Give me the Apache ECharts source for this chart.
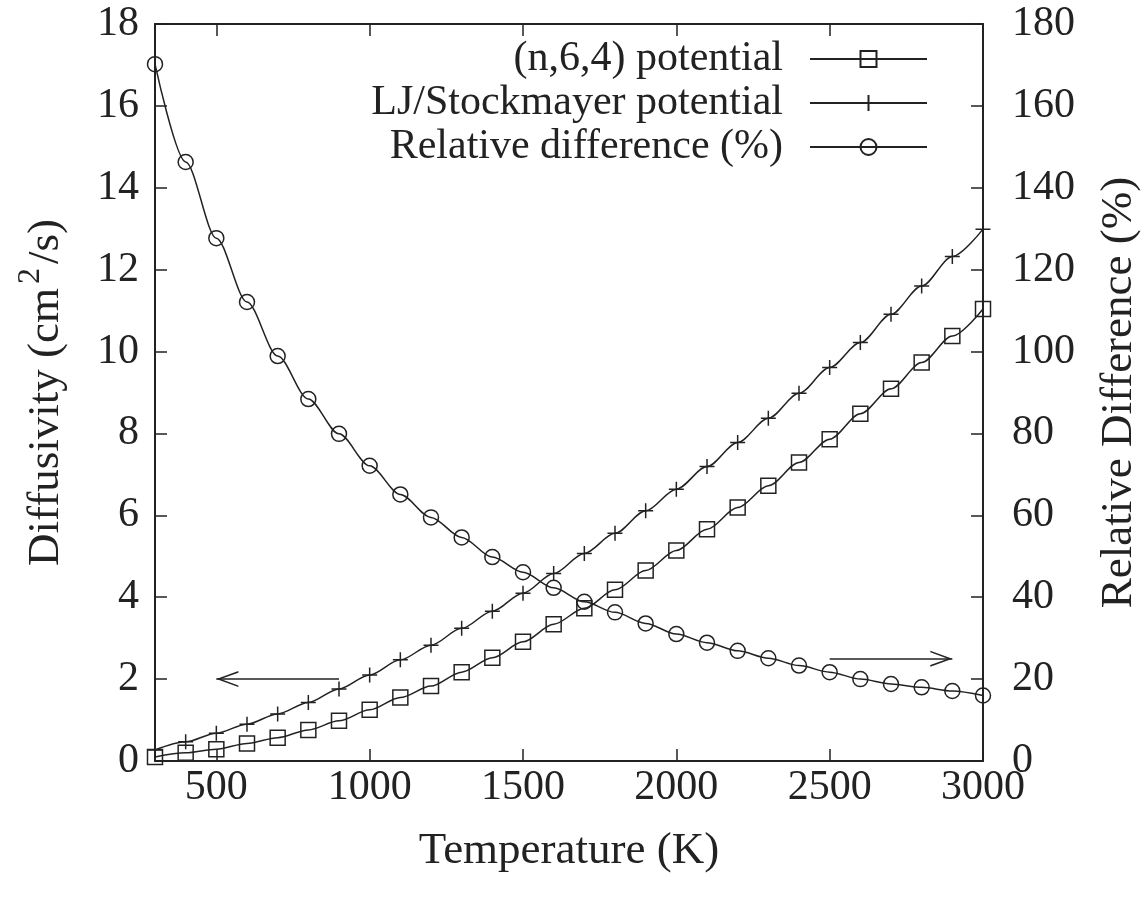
<!DOCTYPE html>
<html>
<head>
<meta charset="utf-8">
<script src="https://cdn.jsdelivr.net/npm/echarts@6/dist/echarts.min.js"></script>
<style>
html,body{margin:0;padding:0;background:#fff;}
#chart{width:1142px;height:897px;}
</style>
</head>
<body>
<div id="chart"></div>
<script>
const temperatures = [300,400,500,600,700,800,900,1000,1100,1200,1300,1400,1500,1600,1700,1800,1900,2000,2100,2200,2300,2400,2500,2600,2700,2800,2900,3000];
const n64Potential = [0.10,0.20,0.29,0.43,0.57,0.76,0.98,1.25,1.55,1.83,2.17,2.52,2.91,3.34,3.73,4.18,4.65,5.14,5.66,6.19,6.72,7.29,7.86,8.48,9.09,9.73,10.38,11.04];
const ljPotential = [0.27,0.47,0.68,0.90,1.15,1.43,1.76,2.10,2.47,2.83,3.24,3.66,4.10,4.58,5.07,5.56,6.11,6.64,7.19,7.78,8.37,8.98,9.61,10.22,10.91,11.60,12.32,12.99];
const relDiff = [170.2,146.3,127.7,112.1,98.9,88.4,79.9,72.1,65.1,59.5,54.6,49.8,46.1,42.3,38.9,36.3,33.6,31.0,28.9,26.9,25.1,23.3,21.7,20.0,18.8,18.0,17.1,16.0];
const xTicks = [500,1000,1500,2000,2500,3000];
const seriesNames = ['(n,6,4) potential','LJ/Stockmayer potential','Relative difference (%)'];
const leftArrow = [[900,2],[500,2]];
const rightArrow = [[2500,25],[2900,25]];

const INK = '#222';
const FONT = '"Liberation Serif", "Times New Roman", serif';
const plusPath = 'path://M0,5L10,5M5,0L5,10';
const arrowHead = 'path://M5,0L10,10L9,10L5,2L1,10L0,10Z';

function pairs(ys){ return temperatures.map((t,i)=>[t, ys[i]]); }

const markerStyle = {color:'transparent', borderColor: INK, borderWidth: 1.5};
const lineStyle = {color: INK, width: 1.5};
const tickStyle = {show:true, inside:true, length:12, lineStyle:{color:INK, width:1.5}};
const titleStyle = {fontFamily: FONT, fontSize: 45, color: INK};

const chart = echarts.init(document.getElementById('chart'), null, {renderer:'canvas'});
chart.setOption({
  animation: false,
  backgroundColor: '#fff',
  textStyle: {fontFamily: FONT, color: INK},
  grid: {left:155, right:159, top:24, bottom:136, containLabel:false, outerBoundsMode:'none'},
  legend: {
    orient: 'vertical',
    right: 209,
    top: 33,
    align: 'right',
    itemWidth: 117,
    itemHeight: 20,
    itemGap: 2,
    textStyle: {fontFamily: FONT, fontSize: 42, color: INK, lineHeight: 42, padding:[0,22,0,0]},
    data: seriesNames
  },
  xAxis: [{
    type: 'value', min: 300, max: 3000, position: 'bottom',
    name: 'Temperature (K)', nameLocation: 'middle', nameGap: 68,
    nameTextStyle: titleStyle,
    axisLine: {show:true, onZero:false, lineStyle:{color:INK, width:2}},
    axisTick: Object.assign({customValues: xTicks}, tickStyle),
    axisLabel: {customValues: xTicks, formatter: v => String(v), fontFamily: FONT, fontSize: 42, color: INK, margin: 6},
    splitLine: {show:false}
  },{
    type: 'value', min: 300, max: 3000, position: 'top',
    axisLine: {show:true, onZero:false, lineStyle:{color:INK, width:2}},
    axisTick: Object.assign({customValues: xTicks}, tickStyle),
    axisLabel: {show:false},
    splitLine: {show:false}
  }],
  yAxis: [{
    type: 'value', min: 0, max: 18, interval: 2, position: 'left',
    name: 'Diffusivity (cm{sup|2}/s)', nameLocation: 'middle', nameGap: 78, nameRotate: 90,
    nameTextStyle: Object.assign({
      lineHeight: 62,
      rich: {sup: {fontFamily: FONT, fontSize: 32, color: INK, verticalAlign: 'top', lineHeight: 32, padding: [0, 4, 0, 4]}}
    }, titleStyle),
    axisLine: {show:true, onZero:false, lineStyle:{color:INK, width:2}},
    axisTick: tickStyle,
    axisLabel: {fontFamily: FONT, fontSize: 42, color: INK, margin: 16},
    splitLine: {show:false}
  },{
    type: 'value', min: 0, max: 180, interval: 20, position: 'right',
    name: 'Relative Difference (%)', nameLocation: 'middle', nameGap: 114, nameRotate: 90,
    nameTextStyle: titleStyle,
    axisLine: {show:true, onZero:false, lineStyle:{color:INK, width:2}},
    axisTick: tickStyle,
    axisLabel: {fontFamily: FONT, fontSize: 42, color: INK, margin: 29},
    splitLine: {show:false}
  }],
  series: [{
    name: seriesNames[0], type: 'line', xAxisIndex:0, yAxisIndex:0,
    data: pairs(n64Potential),
    symbol: 'rect', symbolSize: 15,
    smooth: 0.3, smoothMonotone: 'x',
    itemStyle: markerStyle, lineStyle: lineStyle
  },{
    name: seriesNames[1], type: 'line', xAxisIndex:0, yAxisIndex:0,
    data: pairs(ljPotential),
    symbol: plusPath, symbolSize: 15,
    smooth: 0.3, smoothMonotone: 'x',
    itemStyle: markerStyle, lineStyle: lineStyle,
    markLine: {
      silent: true, symbol: ['none', arrowHead], symbolSize: [16, 22], symbolOffset: [0, [0, 11]],
      label: {show:false},
      lineStyle: {color: INK, width: 1.5, type:'solid'},
      data: [[{coord: leftArrow[0]}, {coord: leftArrow[1]}]]
    }
  },{
    name: seriesNames[2], type: 'line', xAxisIndex:0, yAxisIndex:1,
    data: pairs(relDiff),
    symbol: 'circle', symbolSize: 15,
    smooth: 0.3, smoothMonotone: 'x',
    itemStyle: markerStyle, lineStyle: lineStyle,
    markLine: {
      silent: true, symbol: ['none', arrowHead], symbolSize: [16, 22], symbolOffset: [0, [0, 11]],
      label: {show:false},
      lineStyle: {color: INK, width: 1.5, type:'solid'},
      data: [[{coord: rightArrow[0]}, {coord: rightArrow[1]}]]
    }
  }]
});
</script>
</body>
</html>
